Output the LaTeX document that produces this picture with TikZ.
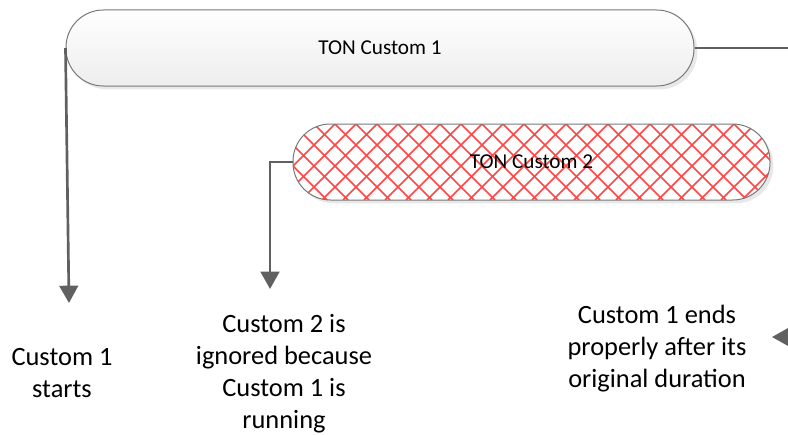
\documentclass[tikz,border=0pt]{standalone}
\usepackage{fontspec}
\setmainfont{Carlito}
\usetikzlibrary{arrows.meta,shadows}

\definecolor{lineGray}{RGB}{96,96,96}
\definecolor{edgeGray}{RGB}{120,120,120}
\definecolor{hatchRed}{RGB}{255,70,70}

\tikzset{every picture/.style={line width=0.75pt}}
\tikzset{
bar/.style={draw=edgeGray, line width=0.75pt, rounded corners=28pt,
  minimum height=57pt, inner sep=0pt, font=\fontsize{15.9}{19}\selectfont,
  drop shadow={shadow xshift=2.5pt, shadow yshift=-2.5pt, fill=black!9, opacity=1}},
hatch/.style={path picture={
  \foreach \k in {-5,...,28}{
    \draw[hatchRed, line width=1.2pt]
      ([xshift=\k*15.75pt]path picture bounding box.north west) --
      ([xshift=\k*15.75pt+57pt]path picture bounding box.south west);
    \draw[hatchRed, line width=1.2pt]
      ([xshift=\k*15.75pt]path picture bounding box.north west) --
      ([xshift=\k*15.75pt-57pt]path picture bounding box.south west);
  }}},
conn/.style={draw=lineGray, line width=2pt, -{Triangle[length=13pt,width=14pt]}},
note/.style={align=center, inner sep=0pt, font=\fontsize{19.8}{24}\selectfont}
}

\begin{document}
\begin{tikzpicture}[x=0.75pt,y=0.75pt,yscale=-1,xscale=1]
\useasboundingbox (0,0) rectangle (788,435);
\clip (0,0) rectangle (788,435);

%Rounded Rect
\node[bar, top color=white, bottom color=black!7, minimum width=471pt] (ton1) at (380,48) {TON Custom 1};
%Rounded Rect
\node[bar, fill=white, hatch, minimum width=357.75pt] (ton2) at (531.5,162) {TON Custom 2};

\coordinate (tip1) at (69,303);
\coordinate (tip2) at (270,289);
\coordinate (turn) at (810,48);
\coordinate (tip3) at (772,337);

%Connectors
\draw[conn] (ton1.west) -- (tip1);
\draw[conn] (ton2.west) -| (tip2);
\draw[conn] (ton1.east) -- (turn) |- (tip3);

% Text Node
\node[note] (start1) at (62,373) {Custom 1\\starts};
% Text Node
\node[note] (ignore2) at (284,374) {Custom 2 is\\ignored because\\Custom 1 is\\running};
% Text Node
\node[note] (end1) at (657,349) {Custom 1 ends\\properly after its\\original duration};

\end{tikzpicture}
\end{document}
